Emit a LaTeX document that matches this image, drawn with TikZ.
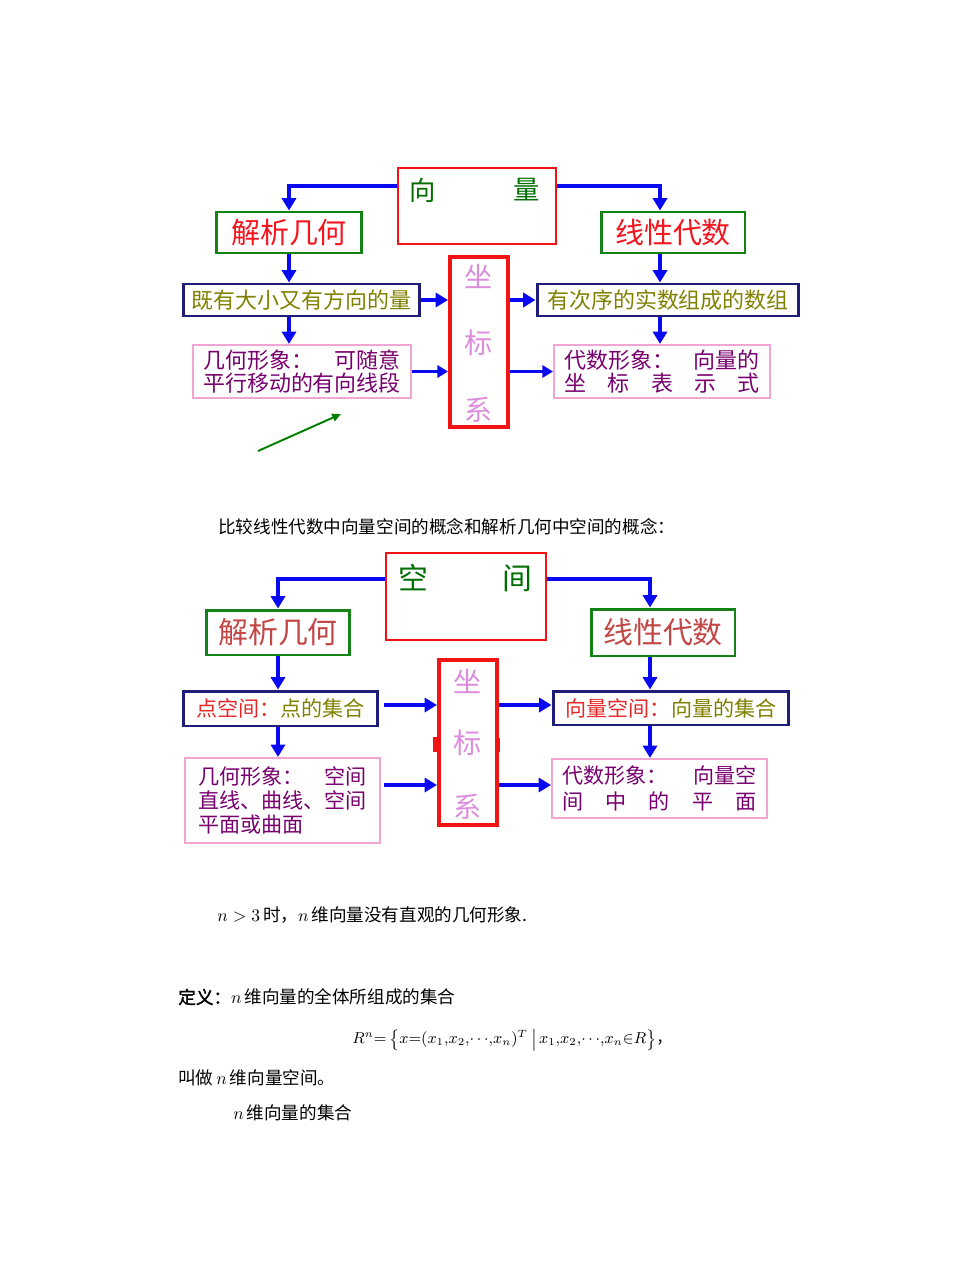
\documentclass[tikz,border=0pt]{standalone}
\usepackage{fontspec}
\setmainfont{Noto Sans CJK SC}
\newfontfamily\cjkbf[FakeBold=2]{Noto Sans CJK SC}
\usetikzlibrary{arrows.meta,positioning,calc}
\definecolor{boxred}{RGB}{240,20,20}
\definecolor{boxgrn}{RGB}{20,130,20}
\definecolor{boxnavy}{RGB}{30,30,120}
\definecolor{boxpink}{RGB}{240,165,210}
\definecolor{arrblue}{RGB}{10,10,240}
\definecolor{ttlred}{RGB}{245,20,30}
\definecolor{ttlred2}{RGB}{195,70,70}
\definecolor{olvtxt}{RGB}{128,128,0}
\definecolor{prptxt}{RGB}{120,0,110}
\definecolor{axclr}{RGB}{220,140,220}
\definecolor{grntxt}{RGB}{0,110,0}
\definecolor{ptred}{RGB}{230,40,40}
\definecolor{penclr}{RGB}{0,128,0}
\tikzset{
  hdbox/.style={rectangle,draw=boxred,line width=1.3pt,inner sep=0pt},
  hdtxt/.style={text=grntxt,inner sep=0pt},
  axbox/.style={rectangle,draw=boxred,line width=2.3pt,inner sep=0pt,
    minimum width=1.16cm},
  axtxt/.style={text=axclr,inner sep=0pt,font=\fontsize{16}{17}\selectfont},
  ttlblk/.style={rectangle,draw=boxgrn,line width=1.7pt,inner sep=0pt,
    text=ttlred,font=\fontsize{16.5}{18}\selectfont},
  navblk/.style={rectangle,draw=boxnavy,line width=1.7pt,inner sep=0pt,
    text=olvtxt,font=\fontsize{12.5}{14}\selectfont},
  pnkblk/.style={rectangle,draw=boxpink,line width=1.2pt,inner sep=0pt,
    text=prptxt,align=left,font=\fontsize{12.5}{13.5}\selectfont},
  arr/.style={-{Triangle[length=7pt,width=8pt]},line width=2.3pt,color=arrblue},
  darr/.style={-{Triangle[length=6pt,width=7pt]},line width=1.3pt,color=arrblue},
  penarr/.style={-{Triangle[length=5pt,width=4.5pt]},line width=1.1pt,color=penclr},
  axmark/.style={line width=2.8pt,color=boxred},
  bodytxt/.style={anchor=west,inner sep=0pt,font=\fontsize{10}{12}\selectfont},
}
\begin{document}
\begin{tikzpicture}[x=0.02cm,y=-0.02cm]
  \useasboundingbox (0,0) rectangle (979,1267);
  % vector diagram
  \node[hdbox,minimum width=3.16cm,minimum height=1.52cm] (vecbox) at (477,206) {};
  \node[hdtxt,font=\fontsize{15}{16}\selectfont] (vecL) at (423,190) {向};
  \node[hdtxt,font=\fontsize{15}{16}\selectfont] (vecR) at (527,190) {量};
  \node[ttlblk,minimum width=2.92cm,minimum height=0.82cm] (anaA) at (289,232.5) {解析几何};
  \node[ttlblk,minimum width=2.88cm,minimum height=0.82cm] (linA) at (673,232.5) {线性代数};
  \node[navblk,minimum width=4.74cm,minimum height=0.64cm] (magA) at (301.5,300) {既有大小又有方向的量};
  \node[navblk,minimum width=5.24cm,minimum height=0.64cm] (seqA) at (668,300) {有次序的实数组成的数组};
  \node[pnkblk,minimum width=4.36cm,minimum height=1.06cm] (geoA) at (302,371.5)
    {\hbox to 3.95cm{几何形象：\hfill 可随意}\\平行移动的有向线段};
  \node[pnkblk,minimum width=4.32cm,minimum height=1.06cm] (algA) at (662,371.5)
    {\hbox to 3.9cm{代数形象：\hfill 向量的}\\\hbox to 3.9cm{坐\hfill 标\hfill 表\hfill 示\hfill 式}};
  \node[axbox,minimum height=3.4cm] (axA) at (479,342) {};
  \node[axtxt] (axA1) at (479,276) {坐};
  \node[axtxt] (axA2) at (479,343) {标};
  \node[axtxt] (axA3) at (479,410) {系};
  \coordinate (rcA) at ([xshift=-0.26cm]linA.south);
  \draw[arr] ([yshift=0.4cm]vecbox.west) -| (anaA.north);
  \draw[arr] ([yshift=0.4cm]vecbox.east) -| ([xshift=-0.26cm]linA.north);
  \draw[arr] (anaA.south) -- (anaA.south |- magA.north);
  \draw[arr] (anaA.south |- magA.south) -- (anaA.south |- geoA.north);
  \draw[arr] (rcA) -- (rcA |- seqA.north);
  \draw[arr] (rcA |- seqA.south) -- (rcA |- algA.north);
  \draw[arr] (magA.east) -- (magA.east -| axA.west);
  \draw[darr] (geoA.east) -- (geoA.east -| axA.west);
  \draw[arr] (axA.east |- seqA.west) -- (seqA.west);
  \draw[darr] (axA.east |- algA.west) -- (algA.west);
  % green pen stroke
  \coordinate (penS) at (258,451);
  \coordinate (penE) at (341,414);
  \draw[penarr] (penS) -- (penE);
  % caption
  \node[bodytxt] (cmpcap) at (218,527) {比较线性代数中向量空间的概念和解析几何中空间的概念：};
  % space diagram
  \node[hdbox,minimum width=3.2cm,minimum height=1.74cm] (spcbox) at (466,596.5) {};
  \node[hdtxt,font=\fontsize{17}{18}\selectfont] (spcL) at (413,578) {空};
  \node[hdtxt,font=\fontsize{17}{18}\selectfont] (spcR) at (517,578) {间};
  \node[ttlblk,text=ttlred2,font=\fontsize{17}{18}\selectfont,minimum width=2.88cm,minimum height=0.9cm] (anaB) at (278,632.5) {解析几何};
  \node[ttlblk,text=ttlred2,font=\fontsize{17}{18}\selectfont,minimum width=2.88cm,minimum height=0.94cm] (linB) at (663,632.5) {线性代数};
  \node[navblk,font=\fontsize{12}{14}\selectfont,minimum width=3.9cm,minimum height=0.7cm] (ptB) at (280.5,708.5)
    {{\color{ptred}点空间：}点的集合};
  \node[navblk,font=\fontsize{12}{14}\selectfont,minimum width=4.72cm,minimum height=0.68cm] (vsB) at (671,708)
    {{\color{ptred}向量空间：}向量的集合};
  \node[pnkblk,font=\fontsize{12}{13.7}\selectfont,minimum width=3.9cm,minimum height=1.7cm] (geoB) at (282.5,800.5)
    {\hbox to 3.37cm{几何形象：\hfill 空间}\\直线、曲线、空间\\平面或曲面};
  \node[pnkblk,font=\fontsize{12}{14.5}\selectfont,minimum width=4.3cm,minimum height=1.18cm] (algB) at (659.5,788.5)
    {\hbox to 3.9cm{代数形象：\hfill 向量空}\\\hbox to 3.9cm{间\hfill 中\hfill 的\hfill 平\hfill 面}};
  \node[axbox,minimum height=3.3cm] (axB) at (468,742.5) {};
  \node[axtxt] (axB1) at (468,681) {坐};
  \node[axtxt] (axB2) at (468,743) {标};
  \node[axtxt] (axB3) at (468,807) {系};
  \draw[axmark] ([xshift=-0.04cm,yshift=0.11cm]axB.west) -- ([xshift=-0.04cm,yshift=-0.19cm]axB.west);
  \draw[axmark] ([xshift=-0.03cm,yshift=0.09cm]axB.east) -- ([xshift=-0.03cm,yshift=-0.19cm]axB.east);
  \coordinate (rcB) at ([xshift=-0.26cm]linB.south);
  \coordinate (ptBo) at ([xshift=0.1cm,yshift=0.07cm]ptB.east);
  \coordinate (geoBo) at ([xshift=0.06cm,yshift=0.31cm]geoB.east);
  \draw[arr] ([yshift=0.35cm]spcbox.west) -| (anaB.north);
  \draw[arr] ([yshift=0.35cm]spcbox.east) -| ([xshift=-0.26cm]linB.north);
  \draw[arr] (anaB.south) -- (anaB.south |- ptB.north);
  \draw[arr] (anaB.south |- ptB.south) -- (anaB.south |- geoB.north);
  \draw[arr] (rcB) -- (rcB |- vsB.north);
  \draw[arr] (rcB |- vsB.south) -- (rcB |- algB.north);
  \draw[arr] (ptBo) -- (ptBo -| axB.west);
  \draw[arr] (geoBo) -- (geoBo -| axB.west);
  \draw[arr] (axB.east |- ptBo) -- (vsB.west |- ptBo);
  \draw[arr] (axB.east |- geoBo) -- (algB.west |- geoBo);
  % text below
  \node[bodytxt] (dimnote) at (217,915) {$n>3$\,时，$n$\,维向量没有直观的几何形象.};
  \node[bodytxt] (defn) at (178,997) {{\cjkbf 定义：}$n$\,维向量的全体所组成的集合};
  \node[bodytxt,font=\fontsize{9}{11}\selectfont] (rnset) at (352,1040)
    {$R^{n}{=}\left\{x{=}(x_{1}{,}x_{2}{,}{\cdots}{,}x_{n})^{T}\mkern4mu\middle|\mkern2mu x_{1}{,}x_{2}{,}{\cdots}{,}x_{n}{\in}R\right\}$，};
  \node[bodytxt] (called) at (178,1078) {叫做\,$n$\,维向量空间。};
  \node[bodytxt] (nset) at (233,1113) {$n$\,维向量的集合};
\end{tikzpicture}
\end{document}
